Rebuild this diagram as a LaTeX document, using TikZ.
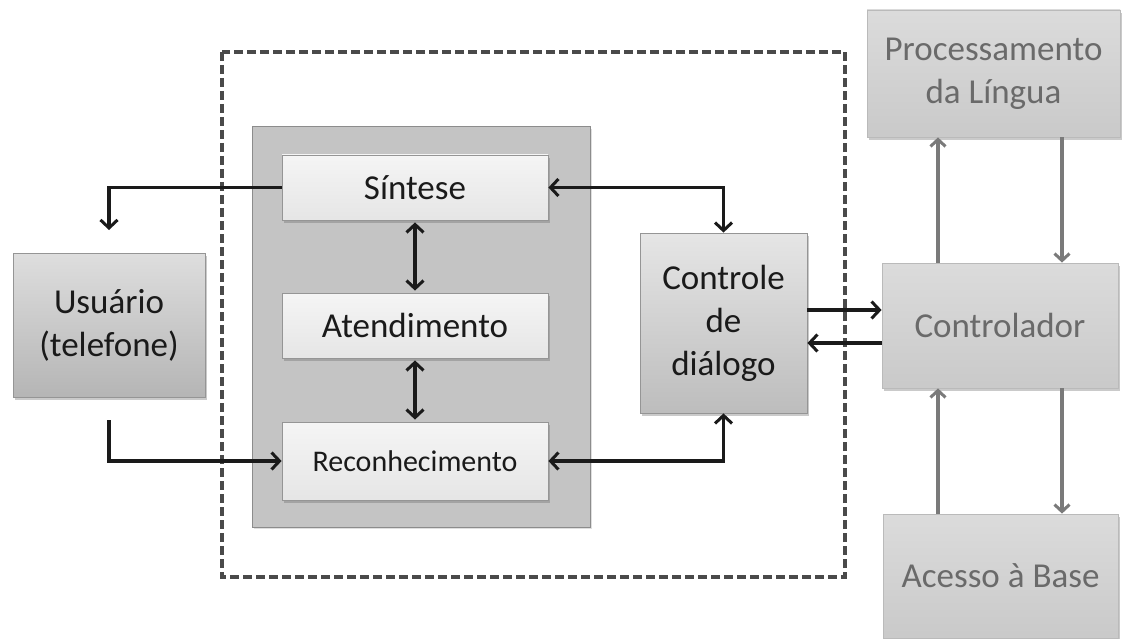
\documentclass[tikz,border=0pt]{standalone}
\usepackage{fontspec}
\setmainfont{Carlito}
\usetikzlibrary{arrows.meta,shadows,calc}

\definecolor{txtdark}{HTML}{1A1A1A}
\definecolor{txtgray}{HTML}{6A6A6A}
\definecolor{panelfill}{HTML}{C4C4C4}
\definecolor{edge}{HTML}{959595}
\definecolor{dashcol}{HTML}{4A4A4A}
\definecolor{garrow}{HTML}{7A7A7A}

\tikzset{
  box/.style={draw=edge, line width=0.8pt, inner sep=0pt, align=center,
    text=txtdark, font=\fontsize{35}{43}\selectfont,
    drop shadow={shadow xshift=2pt, shadow yshift=-3pt, opacity=0.35, fill=black!60}},
  darkbox/.style={box, top color=black!13, bottom color=black!29},
  lightbox/.style={box, top color=black!4, bottom color=black!10},
  ctrlbox/.style={box, top color=black!10, bottom color=black!26},
  sidebox/.style={box, text=txtgray, top color=black!14, bottom color=black!21,
    draw=black!27},
  conn/.style={line width=3.6pt, draw=txtdark,
    arrows={-Straight Barb[length=8pt,width=17pt,line width=3pt]}},
  bothconn/.style={conn,
    arrows={Straight Barb[length=8pt,width=17pt,line width=3pt]-Straight Barb[length=8pt,width=17pt,line width=3pt]}},
  gconn/.style={line width=3.6pt, draw=garrow,
    arrows={-Straight Barb[length=7pt,width=15pt,line width=3pt]}},
}

\begin{document}
\begin{tikzpicture}[x=1pt,y=-1pt]
\useasboundingbox (0,0) rectangle (1129,639);

% dashed boundary of the dialogue system
\draw[dashcol, line width=3.6pt, dash pattern=on 9pt off 4pt] (222,52) rectangle (845,577);

% inner panel holding the three speech modules
\node[draw=black!45, line width=1pt, fill=panelfill, minimum width=338pt, minimum height=400pt,
  drop shadow={shadow xshift=2pt, shadow yshift=-2pt, opacity=0.25}] (panel) at (421,327) {};

% speech modules
\node[lightbox, minimum width=266pt, minimum height=65pt] (sin) at (415,187.5) {Síntese};
\node[lightbox, minimum width=266pt, minimum height=65pt] (ate) at (415,325.5) {Atendimento};
\node[lightbox, minimum width=266pt, minimum height=78pt, font=\fontsize{30}{36}\selectfont] (rec) at (415,461) {Reconhecimento};

% user
\node[darkbox, minimum width=192pt, minimum height=144pt] (usr) at (109,325) {Usuário\\(telefone)};

% dialogue control
\node[ctrlbox, minimum width=167pt, minimum height=180pt] (ctl) at (723.5,323) {Controle\\de\\diálogo};

% external components
\node[sidebox, minimum width=236pt, minimum height=125pt] (ctr) at (1000,325.5) {Controlador};
\node[sidebox, minimum width=253pt, minimum height=127pt] (proc) at (993.5,73.5) {Processamento\\da Língua};
\node[sidebox, minimum width=235pt, minimum height=124pt] (acc) at (1000.5,576) {Acesso à Base};

% connectors on the user side
\coordinate (uin) at (109,230);
\coordinate (uout) at (109,420);
\draw[conn] (sin.west) -| (uin);
\draw[conn] (uout) |- (rec.west);

% links between modules
\draw[bothconn, shorten <=2pt, shorten >=2pt] (sin.south) -- (ate.north);
\draw[bothconn, shorten <=2pt, shorten >=2pt] (ate.south) -- (rec.north);
\draw[bothconn] (sin.east) -| (ctl.north);
\draw[bothconn] (rec.east) -| (ctl.south);

% dialogue control <-> controller
\draw[conn] ([yshift=13pt]ctl.east) -- ([yshift=13pt]ctl.east -| ctr.west);
\draw[conn] ([yshift=-20pt]ctl.east -| ctr.west) -- ([yshift=-20pt]ctl.east);

% controller <-> language processing and database access
\draw[gconn] ([xshift=-62pt]ctr.north) -- ([xshift=-62pt]ctr.north |- proc.south);
\draw[gconn] ([xshift=62pt]ctr.north |- proc.south) -- ([xshift=62pt]ctr.north);
\draw[gconn] ([xshift=-62pt]ctr.south |- acc.north) -- ([xshift=-62pt]ctr.south);
\draw[gconn] ([xshift=62pt]ctr.south) -- ([xshift=62pt]ctr.south |- acc.north);
\end{tikzpicture}
\end{document}
